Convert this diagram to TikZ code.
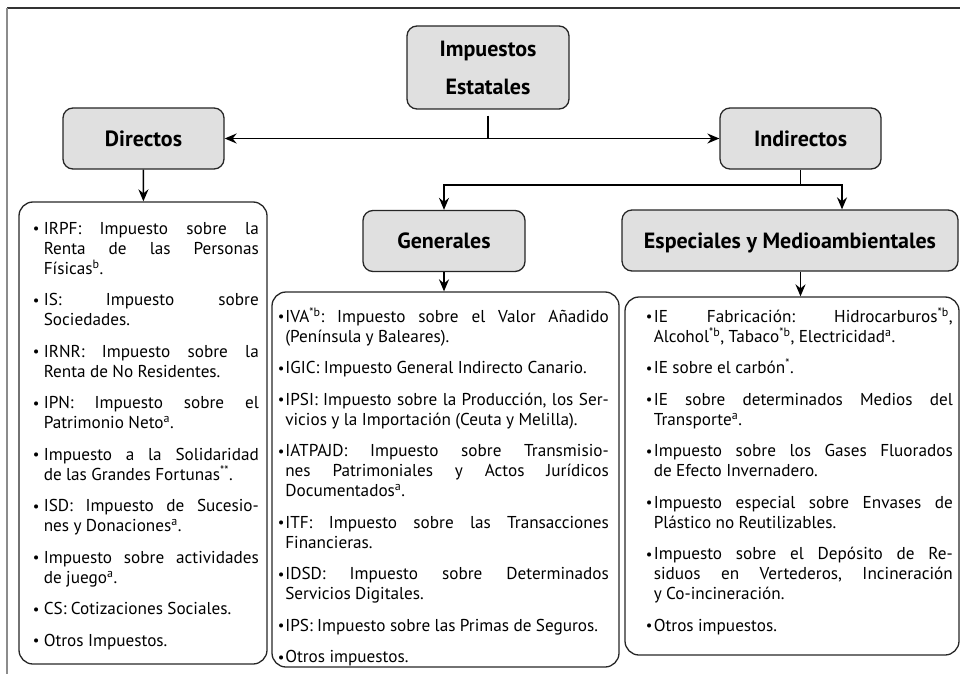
\documentclass[tikz,border=0pt]{standalone}
\usepackage{fontspec}
\setmainfont{PT Sans}
\usetikzlibrary{positioning,calc}
\usetikzlibrary{arrows.meta}

\newlength{\bulhang}
\newlength{\listgap}
\setlength{\listgap}{11.5pt}
\newcommand{\itm}[1]{\hangindent=\bulhang\hangafter=1\noindent\rule{0pt}{18pt}\makebox[\bulhang][l]{\raisebox{0.8pt}{\scalebox{0.85}{\textbullet}}}#1\par\vspace{\listgap}}

\tikzset{
	topbox/.style = {draw = black!85, fill = black!12, line width = 1.3pt, rounded corners = 10pt, inner sep = 0pt, font = \fontsize{22}{24}\selectfont\bfseries},
	catbox/.style = {topbox, minimum height = 61pt, text height = 15.4pt, text depth = 0pt},
	listbox/.style = {draw = black!85, line width = 1.3pt, rounded corners = 14pt, inner sep = 0pt},
	listtext/.style = {anchor = north west, inner sep = 0pt, align = justify, font = \fontsize{17.2}{20}\selectfont, execute at begin node = {\setlength{\parskip}{0pt}\lineskiplimit=-20pt\frenchspacing\spaceskip=4.4pt plus 4pt minus 1.6pt\hyphenpenalty=10000\tolerance=10000}}
}

\begin{document}
\begin{tikzpicture}[x = 1pt, y = -1pt, >={Stealth[length = 12pt, width = 10pt, inset = 4pt]}, line width = 1.6pt]
\useasboundingbox (0, 0) rectangle (960, 674);
\draw [black!80, line width = 1.2pt] (7, 8)  --  (960, 8);
\draw [black!45, line width = 2pt] (7, 8)  --  (7, 674);

\node [topbox, minimum width = 162pt, minimum height = 83pt, font = \fontsize{22}{38}\selectfont\bfseries, align = center] (estatales) at (488, 67.5) {Impuestos\\Estatales};

\node [catbox, minimum width = 161pt] (directos) at (143.5, 138.5) {Directos};
\node [catbox, minimum width = 161pt] (indirectos) at (800.5, 138.5) {Indirectos};
\node [catbox, minimum width = 162pt] (generales) at (444, 241) {Generales};
\node [catbox, minimum width = 336pt] (especiales) at (790, 240.5) {Especiales y Medioambientales};

\draw [shorten <= 6pt] (estatales)  --  (estatales |- directos);
\draw [<->] (directos)  --  (indirectos);

\coordinate (split) at (800.5, 185);
\coordinate (espin) at (842, 185);
\draw (indirectos)  --  (split);
\draw [->] (split)  -|  (generales);
\draw [->] (split)  --  (espin)  --  (espin |- especiales.north);

\node [listbox, minimum width = 248pt, minimum height = 462pt] (dlist) at (143, 433) {};
\node [listbox, minimum width = 347pt, minimum height = 375pt] (glist) at (445.5, 479.5) {};
\node [listbox, minimum width = 334pt, minimum height = 358pt] (elist) at (792, 476) {};

\draw [->] (directos)  --  (dlist);
\draw [->] (generales)  --  (generales |- glist.north);
\draw [->] (especiales.south -| split)  --  (elist.north -| split);

\begin{scope}
	\node [listtext, text width = 226pt] (dtext) at (32, 215.5) {\setlength{\bulhang}{11pt}%
	\itm{IRPF: Impuesto sobre la \linebreak Renta de las Personas \linebreak Físicas\textsuperscript{b}.}
	\itm{IS: Impuesto sobre \linebreak Sociedades.}
	\itm{IRNR: Impuesto sobre la \linebreak Renta de No Residentes.}
	\itm{IPN: Impuesto sobre el \linebreak Patrimonio Neto\textsuperscript{a}.}
	\itm{Impuesto a la Solidaridad \linebreak de las Grandes Fortunas\textsuperscript{**}.}
	\itm{ISD: Impuesto de Sucesio-\linebreak nes y Donaciones\textsuperscript{a}.}
	\itm{Impuesto sobre actividades \linebreak de juego\textsuperscript{a}.}
	\itm{CS: Cotizaciones Sociales.}
	\itm{Otros Impuestos.}};
\end{scope}

\begin{scope}
	\node [listtext, text width = 331pt] (gtext) at (277, 303.5) {\setlength{\bulhang}{7.5pt}%
	\itm{IVA\textsuperscript{*b}: Impuesto sobre el Valor Añadido \linebreak (Península y Baleares).}
	\itm{IGIC: Impuesto General Indirecto Canario.}
	\itm{IPSI: Impuesto sobre la Producción, los Ser-\linebreak vicios y la Importación (Ceuta y Melilla).}
	\itm{IATPAJD: Impuesto sobre Transmisio-\linebreak nes Patrimoniales y Actos Jurídicos \linebreak Documentados\textsuperscript{a}.}
	\itm{ITF: Impuesto sobre las Transacciones \linebreak Financieras.}
	\itm{IDSD: Impuesto sobre Determinados \linebreak Servicios Digitales.}
	\itm{IPS: Impuesto sobre las Primas de Seguros.}
	\itm{Otros impuestos.}};
\end{scope}

\begin{scope}
	\node [listtext, text width = 307pt] (etext) at (645, 303.5) {\setlength{\bulhang}{8pt}%
	\itm{IE Fabricación: Hidrocarburos\textsuperscript{*b}, \linebreak Alcohol\textsuperscript{*b}, Tabaco\textsuperscript{*b}, Electricidad\textsuperscript{a}.}
	\itm{IE sobre el carbón\textsuperscript{*}.}
	\itm{IE sobre determinados Medios del \linebreak Transporte\textsuperscript{a}.}
	\itm{Impuesto sobre los Gases Fluorados \linebreak de Efecto Invernadero.}
	\itm{Impuesto especial sobre Envases de \linebreak Plástico no Reutilizables.}
	\itm{Impuesto sobre el Depósito de Re-\linebreak siduos en Vertederos, Incineración \linebreak y Co-incineración.}
	\itm{Otros impuestos.}};
\end{scope}

\end{tikzpicture}
\end{document}
